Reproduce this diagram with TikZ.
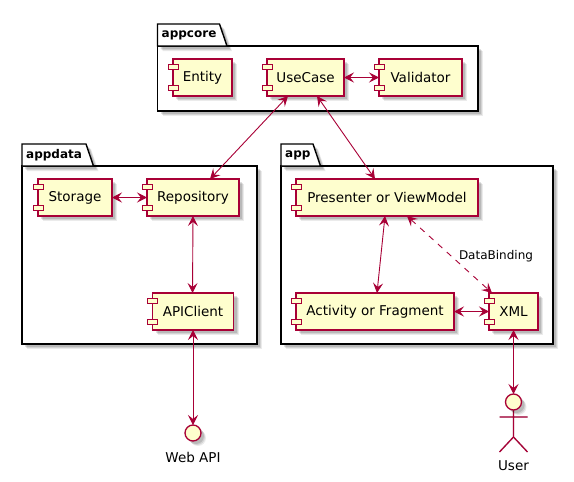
\documentclass[tikz,border=0pt]{standalone}
\usepackage{fontspec}
\setmainfont{DejaVu Sans}
\usepackage{xcolor}
\usetikzlibrary{positioning,arrows.meta,shadows,calc}
\definecolor{umlred}{HTML}{A80036}
\definecolor{umlfill}{HTML}{FEFECE}
\tikzset{
  >={Stealth[length=10pt,width=10pt,inset=4pt]},
  softshadow/.style={
    drop shadow={shadow xshift=5pt,shadow yshift=-5pt,fill=black,opacity=0.08},
    drop shadow={shadow xshift=4pt,shadow yshift=-4pt,fill=black,opacity=0.1},
    drop shadow={shadow xshift=3pt,shadow yshift=-3pt,fill=black,opacity=0.12}},
  package/.style={rectangle,draw=black,fill=white,line width=1.4pt,outer sep=0pt,softshadow},
  pkglabel/.style={anchor=west,inner sep=0pt,font=\fontsize{12}{14}\selectfont\bfseries},
  comp/.style={rectangle,draw=umlred,fill=umlfill,line width=1.3pt,outer sep=0pt,minimum height=37pt,
    inner sep=0pt,font=\fontsize{13.5}{16}\selectfont,softshadow},
  lug/.style={rectangle,draw=umlred,fill=umlfill,line width=1pt,inner sep=0pt,outer sep=0pt,
    minimum width=10pt,minimum height=5pt},
  iface/.style={circle,draw=umlred,fill=umlfill,line width=1.3pt,outer sep=0pt,inner sep=0pt,
    minimum size=16pt,softshadow},
  caption/.style={inner sep=0pt,font=\fontsize{13.5}{16}\selectfont},
  link/.style={draw=umlred,line width=0.9pt,<->},
  limb/.style={line width=1.3pt},
}
\begin{document}
\begin{tikzpicture}[x=1pt,y=-1pt]
    \useasboundingbox (0,0) rectangle (574,482);

    % packages
    \node[package,minimum width=320.5pt,minimum height=65pt] (appcore) at (317.75,78.5) {};
    \node[package,minimum width=235pt,minimum height=178pt] (appdata) at (139.5,255) {};
    \node[package,minimum width=272pt,minimum height=178pt] (app) at (417,255) {};
    \foreach \pkg/\tabw in {appcore/62,appdata/64,app/32} {
      \draw[package] (\pkg.north west) -- ++(0,-22) -- ++(\tabw,0) -- ++(7.5,22) -- cycle;
      \node[pkglabel] (\pkg label) at ([xshift=4pt,yshift=11pt]\pkg.north west) {\pkg};
    }

    % components
    \node[comp,minimum width=77pt] (usecase) at (305.5,77.5) {UseCase};
    \node[comp,minimum width=59pt,left=35pt of usecase] (entity) {Entity};
    \node[comp,minimum width=83pt,right=35pt of usecase] (validator) {Validator};
    \node[comp,minimum width=92pt] (repository) at (193,197.5) {Repository};
    \node[comp,minimum width=74pt,left=35pt of repository] (storage) {Storage};
    \node[comp,minimum width=81pt,below=77pt of repository] (apiclient) {APIClient};
    \node[comp,minimum width=182pt] (presenter) at (387,197.5) {Presenter or ViewModel};
    \node[comp,minimum width=158pt,anchor=north west] (activity) at ([yshift=-77pt]presenter.south west) {Activity or Fragment};
    \node[comp,minimum width=49pt,right=35pt of activity] (xml) {XML};

    \foreach \comp in {entity,usecase,validator,storage,repository,apiclient,presenter,activity,xml} {
      \node[lug] (\comp lugtop) at ([yshift=10.5pt]\comp.west) {};
      \node[lug] (\comp lugbottom) at ([yshift=-10.5pt]\comp.west) {};
    }

    % web api and user
    \node[iface,below=95pt of apiclient] (webapi) {};
    \node[caption,below=11pt of webapi] (webapilabel) {Web API};
    \coordinate[below=80pt of xml] (userneck);
    \coordinate (userhip) at ($(userneck)+(0,27)$);
    \foreach \dx/\linecol in {4/black!18,0/umlred} {
      \draw[limb,draw=\linecol,shift={(\dx pt,-\dx pt)}] (userneck) -- (userhip)
        ($(userneck)+(-14,7)$) -- ($(userneck)+(14,7)$)
        ($(userhip)+(-14,15)$) -- (userhip) -- ($(userhip)+(14,15)$);
    }
    \node[iface,above=0pt of userneck] (userhead) {};
    \node[caption,below=23pt of userhip] (userlabel) {User};

    % connectors
    \path[link] (usecase) -- (validator);
    \path[link] (storage) -- (repository);
    \path[link] (activity) -- (xml);
    \path[link] ([xshift=-17.5pt]usecase.south) -- ([xshift=17pt]repository.north);
    \path[link] ([xshift=11.5pt]usecase.south) -- ([xshift=-12pt]presenter.north);
    \path[link] (repository.south) -- ([xshift=-0.5pt]apiclient.north);
    \path[link] (apiclient) -- (webapi);
    \path[link] ([xshift=-2pt]presenter.south) -- ([xshift=2pt]activity.north);
    \path[link,dash pattern=on 6pt off 6pt] ([xshift=20pt]presenter.south) -- ([xshift=-21.5pt]xml.north) node[caption,pos=0.5,xshift=46.5pt,yshift=-2pt,font=\fontsize{12}{14}\selectfont] (bindinglabel) {DataBinding};
    \path[link] (xml) -- (userhead);

\end{tikzpicture}
\end{document}
